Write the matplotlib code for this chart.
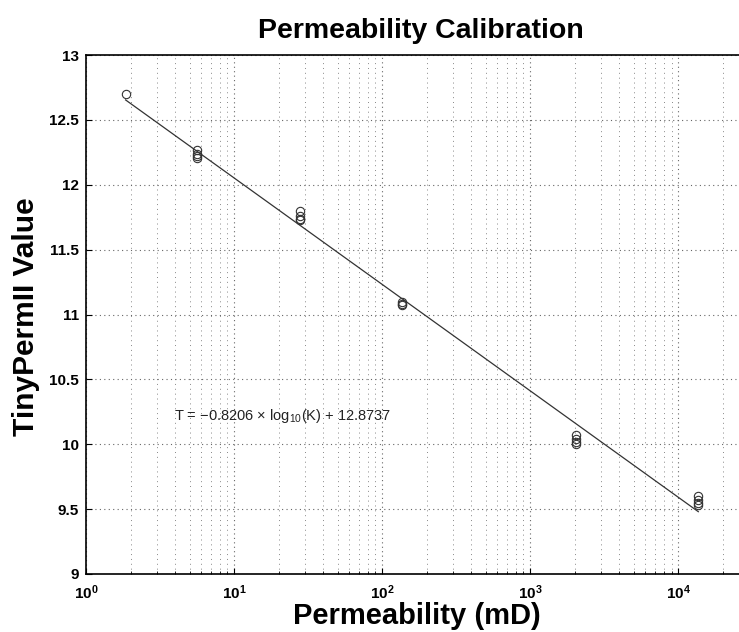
import numpy as np
import matplotlib
matplotlib.use("Agg")
import matplotlib.pyplot as plt

# Data
perm_groups = [1.85, 5.6, 27.9, 136, 2040, 13650]
tinyperm_values = [
    [12.70],
    [12.27, 12.24, 12.21, 12.22],
    [11.80, 11.76, 11.74, 11.73],
    [11.10, 11.08, 11.07],
    [10.07, 10.04, 10.02, 10.00],
    [9.60, 9.57, 9.55, 9.53],
]
slope = -0.8206
intercept = 12.8737
xticks = [1, 10, 100, 1000, 10000]
xticklabels = [r"$\mathbf{10^{0}}$", r"$\mathbf{10^{1}}$", r"$\mathbf{10^{2}}$",
               r"$\mathbf{10^{3}}$", r"$\mathbf{10^{4}}$"]
yticks = [9, 9.5, 10, 10.5, 11, 11.5, 12, 12.5, 13]
yticklabels = ["9", "9.5", "10", "10.5", "11", "11.5", "12", "12.5", "13"]

plt.rcParams['font.family'] = ['Liberation Sans', 'DejaVu Sans']
plt.rcParams['mathtext.fontset'] = 'custom'
plt.rcParams['mathtext.rm'] = 'Liberation Sans'
plt.rcParams['mathtext.bf'] = 'Liberation Sans:bold'

fig = plt.figure(figsize=(7.39, 6.32), dpi=100)
ax = fig.add_axes([0.1164, 0.0918, 0.8836, 0.821])

xs, ys = [], []
for k, vals in zip(perm_groups, tinyperm_values):
    for v in vals:
        xs.append(k)
        ys.append(v)
ax.plot(xs, ys, linestyle='none', marker='o', markersize=6,
        markerfacecolor='none', markeredgecolor='#333333', markeredgewidth=0.8, zorder=3)

kfit = np.logspace(np.log10(min(perm_groups)), np.log10(max(perm_groups)), 100)
ax.plot(kfit, slope * np.log10(kfit) + intercept, color='#333333', linewidth=0.9, zorder=3)

ax.set_xscale('log')
ax.set_xlim(1, 10 ** 4.41)
ax.set_ylim(9, 13)
ax.set_xticks(xticks)
ax.set_xticklabels(xticklabels)
ax.set_yticks(yticks)
ax.set_yticklabels(yticklabels)
ax.tick_params(axis='both', which='major', direction='in', length=4, labelsize=11, width=0.8)
ax.tick_params(axis='x', which='major', pad=7)
ax.tick_params(axis='y', which='major', pad=5)
ax.tick_params(axis='x', which='minor', direction='in', length=2, width=0.6)
for lab in ax.get_yticklabels():
    lab.set_fontweight('bold')

ax.grid(True, which='major', linestyle=(0, (1, 3)), color='#666666', linewidth=0.8)
ax.grid(True, which='minor', axis='x', linestyle=(0, (1, 4)), color='#888888', linewidth=0.7)
ax.spines['right'].set_visible(False)
for s in ['left', 'bottom', 'top']:
    ax.spines[s].set_linewidth(1.2)

ax.text(3.9, 10.22, r"T = $-$0.8206 $\times$ log$_{10}$(K) + 12.8737", fontsize=10.5,
        va='center', ha='left', color='#222222')

fig.text(421 / 739, 1 - 38 / 632, "Permeability Calibration", ha='center', va='baseline',
         fontsize=20.5, fontweight='bold')
fig.text(417 / 739, 1 - 624 / 632, "Permeability (mD)", ha='center', va='baseline',
         fontsize=21, fontweight='bold')
fig.text(26 / 739, 1 - 317 / 632, "TinyPermII Value", ha='center', va='center',
         fontsize=21.5, fontweight='bold', rotation=90)

fig.savefig("out.png", dpi=100)
